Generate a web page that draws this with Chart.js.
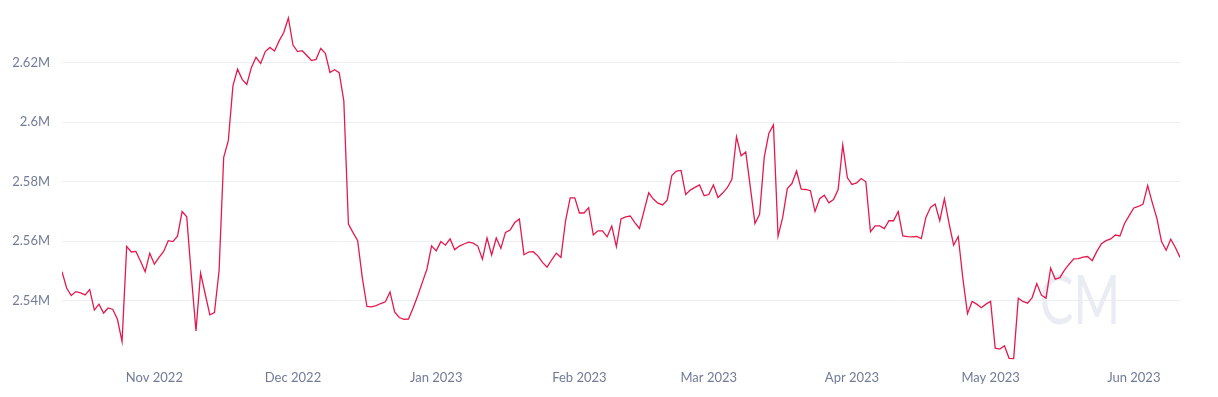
<!DOCTYPE html>
<html>
<head>
<meta charset="utf-8">
<script src="https://cdn.jsdelivr.net/npm/chart.js@4.4.0/dist/chart.umd.min.js"></script>
<style>
  html, body { margin: 0; padding: 0; background: #fff; }
  #wrap { width: 1218px; height: 397px; position: relative; }
</style>
</head>
<body>
<div id="wrap"><canvas id="chart"></canvas></div>
<script>
// Daily series, values in millions, starting 2022-10-12
const startDate = '2022-10-12';
const supplyM = [
  2.5498, 2.5443, 2.5418, 2.5431, 2.5427, 2.5420, 2.5438, 2.5369, 2.5389, 2.5359,
  2.5376, 2.5371, 2.5338, 2.5263, 2.5583, 2.5564, 2.5566, 2.5533, 2.5498, 2.5560,
  2.5523, 2.5546, 2.5566, 2.5602, 2.5599, 2.5617, 2.5700, 2.5682, 2.5484, 2.5299,
  2.5493, 2.5423, 2.5353, 2.5361, 2.5501, 2.5882, 2.5938, 2.6122, 2.6178, 2.6144,
  2.6127, 2.6184, 2.6218, 2.6197, 2.6237, 2.6251, 2.6239, 2.6273, 2.6301, 2.6350,
  2.6259, 2.6237, 2.6240, 2.6224, 2.6207, 2.6211, 2.6248, 2.6231, 2.6167, 2.6176,
  2.6166, 2.6072, 2.5658, 2.5629, 2.5602, 2.5478, 2.5381, 2.5380, 2.5384, 2.5391,
  2.5397, 2.5430, 2.5363, 2.5344, 2.5338, 2.5339, 2.5376, 2.5417, 2.5462, 2.5507,
  2.5585, 2.5568, 2.5599, 2.5587, 2.5608, 2.5572, 2.5584, 2.5591, 2.5597, 2.5594,
  2.5584, 2.5540, 2.5611, 2.5554, 2.5611, 2.5576, 2.5630, 2.5638, 2.5663, 2.5675,
  2.5555, 2.5564, 2.5565, 2.5551, 2.5529, 2.5513, 2.5538, 2.5560, 2.5546, 2.5669,
  2.5746, 2.5746, 2.5695, 2.5695, 2.5713, 2.5621, 2.5635, 2.5635, 2.5615, 2.5651,
  2.5582, 2.5675, 2.5682, 2.5685, 2.5663, 2.5643, 2.5703, 2.5763, 2.5742, 2.5728,
  2.5722, 2.5738, 2.5821, 2.5836, 2.5838, 2.5757, 2.5772, 2.5781, 2.5789, 2.5753,
  2.5757, 2.5789, 2.5747, 2.5762, 2.5780, 2.5808, 2.5951, 2.5887, 2.5900, 2.5781,
  2.5660, 2.5691, 2.5882, 2.5962, 2.5991, 2.5617, 2.5680, 2.5777, 2.5794, 2.5836,
  2.5775, 2.5774, 2.5770, 2.5700, 2.5743, 2.5755, 2.5729, 2.5740, 2.5774, 2.5924,
  2.5813, 2.5791, 2.5796, 2.5811, 2.5800, 2.5632, 2.5652, 2.5652, 2.5643, 2.5669,
  2.5669, 2.5700, 2.5618, 2.5616, 2.5615, 2.5616, 2.5609, 2.5680, 2.5714, 2.5725,
  2.5669, 2.5743, 2.5661, 2.5587, 2.5616, 2.5475, 2.5357, 2.5398, 2.5389, 2.5377,
  2.5389, 2.5398, 2.5241, 2.5238, 2.5249, 2.5207, 2.5206, 2.5409, 2.5398, 2.5392,
  2.5411, 2.5458, 2.5419, 2.5409, 2.5510, 2.5473, 2.5478, 2.5503, 2.5523, 2.5541,
  2.5542, 2.5547, 2.5549, 2.5535, 2.5566, 2.5592, 2.5602, 2.5608, 2.5621, 2.5618,
  2.5660, 2.5686, 2.5712, 2.5717, 2.5725, 2.5787, 2.5730, 2.5677, 2.5599, 2.5570,
  2.5607, 2.5579, 2.5546
];

// Month ticks on the x axis
const tickDates = ['2022-11-01', '2022-12-01', '2023-01-01', '2023-02-01',
                   '2023-03-01', '2023-04-01', '2023-05-01', '2023-06-01'];
const tickLabels = ['Nov 2022', 'Dec 2022', 'Jan 2023', 'Feb 2023',
                    'Mar 2023', 'Apr 2023', 'May 2023', 'Jun 2023'];

// y-axis range (millions)
const yMin = 2.52;
const yMax = 2.636;
const yStep = 0.02;

const DAY = 86400000;
const t0 = Date.parse(startDate);
const dayIndex = d => Math.round((Date.parse(d) - t0) / DAY);
const tickIdx = tickDates.map(dayIndex);

const points = supplyM.map((v, i) => ({ x: i, y: v }));

const labelColor = '#727a98';
const gridColor = '#eceef5';
const lineColor = '#e5194c';

// faint "CM" watermark behind the line
const watermark = {
    id: 'watermark',
    beforeDatasetsDraw(chart) {
        const { ctx, chartArea } = chart;
        ctx.save();
        ctx.fillStyle = '#eaecf3';
        ctx.font = '400 68px Lato';
        ctx.textAlign = 'center';
        ctx.textBaseline = 'alphabetic';
        ctx.translate(chartArea.right - 100, chartArea.bottom - 36);
        ctx.scale(0.74, 1);
        ctx.fillText('CM', 0, 0);
        ctx.restore();
    }
};

const chart = new Chart(document.getElementById('chart'), {
    type: 'line',
    data: {
        datasets: [{
            data: points,
            borderColor: lineColor,
            borderWidth: 1.3,
            pointRadius: 0,
            fill: false,
            tension: 0
        }]
    },
    options: {
        responsive: true,
        maintainAspectRatio: false,
        animation: false,
        layout: { padding: { top: 15, right: 38, bottom: 1, left: 0 } },
        plugins: {
            legend: { display: false },
            tooltip: { enabled: false }
        },
        scales: {
            x: {
                type: 'linear',
                min: 0,
                max: supplyM.length - 1,
                afterBuildTicks: scale => {
                    scale.ticks = tickIdx.map(v => ({ value: v }));
                },
                ticks: {
                    autoSkip: false,
                    maxRotation: 0,
                    padding: 10,
                    color: labelColor,
                    font: { family: 'Lato', size: 13 },
                    callback: v => tickLabels[tickIdx.indexOf(v)] || ''
                },
                grid: { display: false, drawTicks: false },
                border: { display: false }
            },
            y: {
                min: yMin,
                max: yMax,
                afterFit: scale => {
                    scale.width = 62;
                    scale.paddingTop = 0;
                    scale.paddingBottom = 0;
                },
                ticks: {
                    stepSize: yStep,
                    includeBounds: false,
                    padding: 12,
                    color: labelColor,
                    font: { family: 'Lato', size: 13 },
                    callback: v => {
                        if (v < 2.53) return '';
                        return parseFloat(v.toFixed(2)) + 'M';
                    }
                },
                grid: {
                    color: ctx => (ctx.tick && ctx.tick.value < 2.53) ? 'rgba(0,0,0,0)' : gridColor,
                    lineWidth: 1,
                    drawTicks: false
                },
                border: { display: false }
            }
        }
    },
    plugins: [watermark]
});
</script>
</body>
</html>
